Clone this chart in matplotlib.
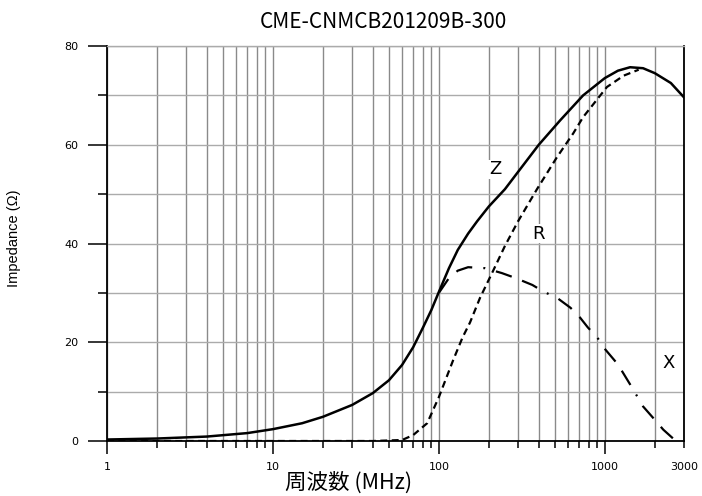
import matplotlib
matplotlib.use("Agg")
import matplotlib.pyplot as plt
from matplotlib.ticker import FixedLocator, NullFormatter

plt.rcParams["lines.scale_dashes"] = False

# Impedance curves (frequency in MHz, value in ohm)
z_freq = [1, 2, 4, 7, 10, 15, 20, 30, 40, 50, 60, 70, 80, 90, 100, 115, 130,
          150, 170, 200, 250, 300, 400, 540, 740, 1000, 1200, 1420, 1700,
          2000, 2500, 3000]
z_vals = [0.3, 0.5, 0.9, 1.6, 2.4, 3.6, 4.9, 7.3, 9.7, 12.3, 15.4, 19.0,
          22.9, 26.5, 30.2, 35.0, 38.7, 42.0, 44.5, 47.5, 51.0, 54.5, 60.0,
          65.0, 70.0, 73.5, 75.0, 75.7, 75.5, 74.5, 72.5, 69.6]

r_freq = [1, 10, 40, 60, 70, 85, 100, 122, 139, 154, 177, 209, 250, 300,
          390, 515, 645, 740, 1030, 1300, 1600]
r_vals = [0.0, 0.0, 0.0, 0.2, 1.2, 3.6, 8.9, 16.4, 21.0, 24.0, 29.0, 34.0,
          39.5, 44.5, 51.0, 57.5, 62.3, 65.6, 71.7, 74.0, 75.2]

x_freq = [100, 115, 130, 150, 190, 240, 290, 366, 430, 515, 620, 690, 790,
          900, 980, 1200, 1460, 1700, 2000, 2250, 2600]
x_vals = [30.0, 33.0, 34.5, 35.2, 35.0, 34.0, 33.0, 31.6, 30.2, 29.0, 27.0,
          25.5, 23.0, 21.0, 19.0, 15.5, 10.8, 7.0, 4.3, 2.3, 0.4]

# curve labels: (text, freq, value)
curve_labels = [("Z", 218, 55.0), ("R", 400, 42.0), ("X", 2440, 15.8)]

x_major = [1, 10, 100, 1000, 3000]
x_major_labels = ["1", "10", "100", "1000", "3000"]
x_minor = [m * d for d in (1, 10, 100) for m in range(2, 10)] + [2000]
y_major = [0, 20, 40, 60, 80]
y_minor = [10, 30, 50, 70]

fig = plt.figure(figsize=(7.02, 4.96), dpi=100)
ax = fig.add_axes([107 / 702, 55 / 496, 577 / 702, 395 / 496])

# grid first so curves sit on top
for f in x_minor + x_major:
    ax.axvline(f, color="#8a8a8a", lw=1.0, zorder=1)
for v in y_major + y_minor:
    ax.axhline(v, color="#ababab", lw=1.0, zorder=1)

ax.plot(z_freq, z_vals, color="black", lw=1.8, zorder=3)
ax.plot(r_freq, r_vals, color="black", lw=1.6, dashes=(5, 3.2), zorder=3)
ax.plot(x_freq, x_vals, color="black", lw=1.6,
        dashes=(12, 8, 12, 8, 1.4, 8), zorder=3)

for txt, f, v in curve_labels:
    ax.text(f, v, txt, fontsize=13, family="DejaVu Sans", ha="center",
            va="center", zorder=4,
            bbox=dict(facecolor="white", edgecolor="none", pad=0.5))

ax.set_xscale("log")
ax.set_xlim(1, 3000)
ax.set_ylim(0, 80)

ax.xaxis.set_major_locator(FixedLocator(x_major))
ax.set_xticklabels(x_major_labels)
ax.xaxis.set_minor_locator(FixedLocator(x_minor))
ax.xaxis.set_minor_formatter(NullFormatter())
ax.yaxis.set_major_locator(FixedLocator(y_major))
ax.yaxis.set_minor_locator(FixedLocator(y_minor))

ax.tick_params(axis="x", which="major", direction="out", length=9.4,
               width=1.1, pad=6, labelsize=8)
ax.tick_params(axis="x", which="minor", direction="out", length=5, width=1.1)
ax.tick_params(axis="y", which="major", direction="out", length=13.7,
               width=1.1, pad=7, labelsize=8)
ax.tick_params(axis="y", which="minor", direction="out", length=6.5,
               width=1.1)
# the 3000 end tick is drawn short in the reference
ax.xaxis.get_major_ticks()[-1].tick1line.set_markersize(5)

for side in ("left", "bottom", "right"):
    ax.spines[side].set_color("black")
    ax.spines[side].set_linewidth(1.3)
ax.spines["top"].set_color("#ababab")
ax.spines["top"].set_linewidth(1.0)

fig.text(383 / 702, 1 - 22 / 496, "CME-CNMCB201209B-300",
         family="Noto Sans CJK JP", fontsize=15, ha="center", va="center")
fig.text(349 / 702, 1 - 483 / 496, "周波数 (MHz)",
         family=["Noto Sans CJK JP", "DejaVu Sans"], fontsize=15.5,
         ha="center", va="center")
fig.text(14 / 702, 1 - 238 / 496, "Impedance (Ω)", family="Liberation Sans",
         fontsize=10.5, rotation=90, ha="center", va="center")

fig.savefig("out.png", dpi=100)
